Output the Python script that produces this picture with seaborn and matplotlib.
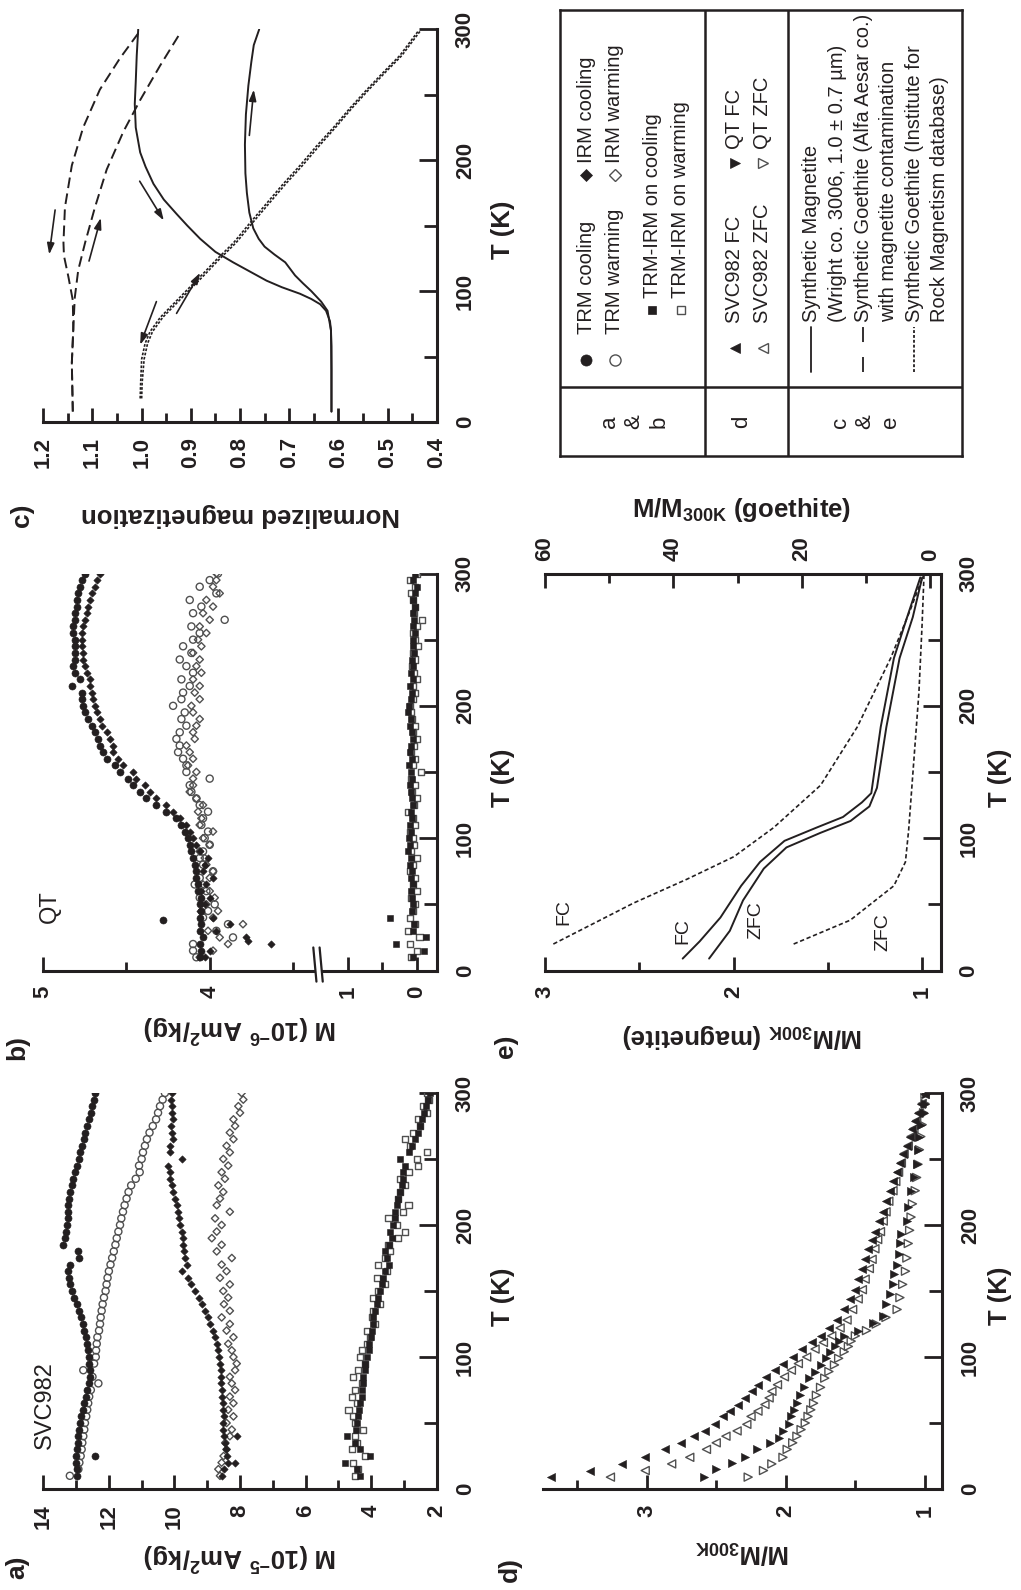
import numpy as np
import matplotlib
matplotlib.use("Agg")
import matplotlib.pyplot as plt
import seaborn as sns

# ---------------- values ----------------
# measurement temperatures (K) used for the scatter series of panels a and b
T_GRID = [10, 15, 20, 25, 30, 35, 40, 45, 50, 55, 60, 65, 70, 75, 80, 85, 90, 95, 100,
          105, 110, 115, 120, 125, 130, 135, 140, 145, 150, 155, 160, 165, 170, 175, 180,
          185, 190, 195, 200, 205, 210, 215, 220, 225, 230, 235, 240, 245, 250, 255, 260,
          265, 270, 275, 280, 285, 290, 295, 300]

# panel a) SVC982, M in 1e-5 Am2/kg
A_TRM_COOL = [12.96, 12.98, 13.00, 12.99, 12.98, 12.95, 12.93, 12.90, 12.87, 12.84,
              12.80, 12.75, 12.70, 12.66, 12.62, 12.59, 12.58, 12.60, 12.61, 12.63,
              12.67, 12.71, 12.75, 12.78, 12.85, 12.92, 12.98, 13.05, 13.12, 13.18,
              13.22, 13.25, 13.18, 12.90, 12.95, 13.39, 13.34, 13.30, 13.28, 13.26,
              13.25, 13.24, 13.22, 13.18, 13.13, 13.08, 13.03, 12.98, 12.92, 12.87,
              12.82, 12.77, 12.72, 12.67, 12.61, 12.56, 12.51, 12.46, 12.42]
A_TRM_COOL_EXTRA_T = [25]
A_TRM_COOL_EXTRA_M = [12.42]
A_TRM_WARM = [13.19, 12.93, 12.90, 12.86, 12.83, 12.81, 12.78, 12.75, 12.73, 12.69,
              12.66, 12.63, 12.60, 12.55, 12.32, 12.50, 12.78, 12.45, 12.40, 12.39,
              12.37, 12.35, 12.30, 12.27, 12.25, 12.22, 12.19, 12.15, 12.10, 12.07,
              12.04, 12.00, 11.95, 11.90, 11.85, 11.80, 11.76, 11.71, 11.66, 11.62,
              11.57, 11.52, 11.46, 11.40, 11.32, 11.18, 11.06, 11.08, 11.00, 10.96,
              10.90, 10.84, 10.76, 10.66, 10.56, 10.50, 10.44, 10.36, 10.29]
A_IRM_COOL = [8.56, 8.49, 8.36, 8.40, 8.43, 8.47, 8.49, 8.51, 8.52, 8.50,
              8.53, 8.53, 8.55, 8.56, 8.58, 8.59, 8.59, 8.61, 8.63, 8.66,
              8.69, 8.76, 8.81, 8.90, 8.97, 9.07, 9.17, 9.24, 9.37, 9.48,
              9.58, 9.78, 9.63, 9.67, 9.70, 9.73, 9.75, 9.78, 9.83, 9.85,
              9.88, 9.93, 9.98, 10.05, 10.08, 10.12, 10.14, 10.19, 9.78, 10.12,
              10.12, 10.05, 10.08, 10.10, 10.05, 10.08, 10.08, 10.10, 10.08]
A_IRM_COOL_EXTRA_T = [40, 20]
A_IRM_COOL_EXTRA_M = [8.10, 8.15]
A_IRM_WARM = [8.61, 8.66, 8.56, 8.50, 8.41, 8.45, 8.31, 8.25, 8.41, 8.20,
              8.36, 8.20, 8.31, 8.15, 8.25, 8.31, 8.15, 8.10, 8.20, 8.25,
              8.36, 8.20, 8.41, 8.31, 8.56, 8.31, 8.49, 8.36, 8.51, 8.31,
              8.61, 8.41, 8.56, 8.25, 8.71, 8.56, 8.86, 8.71, 8.56, 8.76,
              8.31, 8.71, 8.61, 8.51, 8.66, 8.46, 8.56, 8.36, 8.51, 8.31,
              8.41, 8.20, 8.31, 8.15, 8.20, 8.00, 8.05, 7.90, 7.95]
A_TRMIRM_COOL = [4.34, 4.44, 4.80, 4.03, 4.34, 4.49, 4.75, 4.46, 4.44, 4.39,
                 4.36, 4.34, 4.29, 4.29, 4.24, 4.24, 4.19, 4.19, 4.14, 4.08,
                 4.05, 4.01, 3.98, 3.93, 3.93, 3.88, 3.83, 3.78, 3.73, 3.68,
                 3.63, 3.58, 3.47, 3.53, 3.58, 3.47, 3.37, 3.42, 3.32, 3.27,
                 3.27, 3.22, 3.17, 3.12, 3.07, 3.02, 3.02, 2.97, 3.12, 2.86,
                 2.76, 2.66, 2.56, 2.50, 2.44, 2.38, 2.32, 2.26, 2.20]
A_TRMIRM_WARM = [4.49, 4.39, 4.54, 4.19, 4.59, 4.44, 4.49, 4.24, 4.49, 4.54,
                 4.69, 4.44, 4.59, 4.49, 4.29, 4.54, 4.39, 4.19, 4.34, 4.29,
                 4.14, 4.03, 4.14, 3.88, 3.98, 3.93, 3.73, 3.93, 3.78, 3.58,
                 3.83, 3.53, 3.78, 3.58, 3.42, 3.47, 3.17, 2.97, 3.22, 3.47,
                 3.02, 2.86, 3.17, 3.12, 2.97, 3.12, 2.86, 2.56, 2.61, 2.31,
                 2.81, 2.97, 2.71, 2.51, 2.56, 2.31, 2.41, 2.25, 2.31]

# panel b) QT, M in 1e-6 Am2/kg
B_TRM_COOL = [4.06, 4.05, 4.06, 4.04, 4.06, 4.05, 4.06, 4.05, 4.06, 4.05,
              4.07, 4.07, 4.08, 4.08, 4.09, 4.10, 4.11, 4.12, 4.13, 4.15,
              4.17, 4.20, 4.26, 4.32, 4.38, 4.42, 4.46, 4.49, 4.54, 4.57,
              4.62, 4.64, 4.66, 4.67, 4.69, 4.71, 4.73, 4.75, 4.76, 4.77,
              4.77, 4.83, 4.78, 4.81, 4.82, 4.81, 4.81, 4.81, 4.81, 4.82,
              4.82, 4.81, 4.81, 4.80, 4.80, 4.79, 4.78, 4.77, 4.75]
B_TRM_COOL_EXTRA_T = [38]
B_TRM_COOL_EXTRA_M = [4.28]
B_IRM_COOL = [4.03, 4.00, 3.63, 3.78, 3.96, 3.88, 3.98, 4.06, 4.03, 4.00,
              4.05, 4.02, 3.98, 4.04, 4.03, 4.01, 4.06, 4.08, 4.10, 4.12,
              4.14, 4.18, 4.22, 4.26, 4.32, 4.36, 4.39, 4.44, 4.46, 4.52,
              4.55, 4.58, 4.58, 4.60, 4.62, 4.65, 4.66, 4.68, 4.69, 4.70,
              4.71, 4.72, 4.72, 4.74, 4.75, 4.76, 4.76, 4.77, 4.77, 4.77,
              4.76, 4.75, 4.74, 4.73, 4.72, 4.71, 4.69, 4.68, 4.66]
B_IRM_COOL_EXTRA_T = [22]
B_IRM_COOL_EXTRA_M = [3.77]
B_TRM_WARM = [4.08, 4.10, 4.10, 3.86, 3.96, 3.89, 4.04, 4.01, 3.97, 4.06,
              4.02, 4.09, 4.06, 3.98, 4.04, 4.06, 4.04, 4.00, 4.03, 4.01,
              4.05, 4.04, 4.01, 4.06, 4.08, 4.11, 4.12, 4.00, 4.14, 4.14,
              4.16, 4.19, 4.18, 4.20, 4.18, 4.14, 4.17, 4.15, 4.22, 4.17,
              4.16, 4.12, 4.17, 4.10, 4.14, 4.18, 4.11, 4.16, 4.10, 4.06,
              4.11, 3.91, 4.10, 4.05, 4.12, 3.96, 4.06, 4.00, 3.95]
B_IRM_WARM = [4.06, 3.98, 3.89, 3.94, 4.01, 3.80, 3.98, 3.95, 4.02, 3.97,
              4.00, 4.04, 4.00, 3.98, 4.02, 4.03, 4.06, 4.00, 4.04, 3.98,
              4.06, 4.05, 4.07, 4.04, 4.08, 4.12, 4.10, 4.10, 4.08, 4.13,
              4.10, 4.12, 4.14, 4.09, 4.10, 4.08, 4.06, 4.10, 4.11, 4.06,
              4.09, 4.06, 4.10, 4.05, 4.08, 4.06, 4.10, 4.05, 4.07, 4.02,
              4.06, 4.00, 4.04, 3.98, 4.02, 3.94, 3.98, 3.96, 3.96]
B_TRMIRM_COOL = [0.05, -0.10, 0.30, -0.14, 0.05, 0.04, 0.39, 0.07, 0.05, 0.07,
                 0.09, 0.06, 0.08, 0.07, 0.10, 0.08, 0.12, 0.10, 0.11, 0.09,
                 0.10, 0.07, 0.09, 0.06, 0.07, 0.09, 0.10, 0.07, 0.09, 0.11,
                 0.07, 0.10, 0.09, 0.06, 0.07, 0.10, 0.09, 0.12, 0.11, 0.09,
                 0.07, 0.10, 0.06, 0.09, 0.05, 0.07, 0.04, 0.06, 0.05, 0.02,
                 0.05, 0.04, 0.06, 0.02, 0.05, 0.02, 0.00, 0.05, 0.02]
B_TRMIRM_WARM = [0.08, 0.00, 0.10, -0.04, 0.12, 0.02, 0.10, 0.05, 0.02, 0.08,
                 0.00, 0.06, 0.03, 0.10, 0.05, 0.00, 0.08, 0.04, 0.06, 0.10,
                 0.02, 0.05, 0.12, 0.04, 0.00, 0.07, 0.03, 0.08, -0.06, 0.05,
                 0.02, 0.08, 0.04, 0.00, 0.06, 0.03, 0.07, 0.08, 0.10, 0.05,
                 0.02, 0.06, 0.00, 0.04, 0.07, 0.02, 0.05, -0.02, 0.03, 0.06,
                 0.00, -0.08, 0.04, 0.02, 0.05, 0.08, 0.03, 0.10, 0.00]

# panel c) normalized magnetization of the reference materials
C_MAG_COOL_T = [300, 280, 260, 243, 225, 206, 195, 182, 170, 159, 150, 140, 130, 122,
                115, 108, 103, 98, 94, 90, 85, 77, 70, 58, 40, 20, 8]
C_MAG_COOL_M = [1.007, 1.010, 1.012, 1.014, 1.012, 1.003, 0.992, 0.976, 0.955, 0.929,
                0.907, 0.881, 0.850, 0.814, 0.780, 0.746, 0.715, 0.678, 0.655, 0.637,
                0.625, 0.617, 0.615, 0.614, 0.614, 0.614, 0.614]
C_MAG_WARM_T = [8, 40, 70, 85, 92, 100, 106, 112, 117, 122, 128, 134, 140, 148, 160,
                175, 190, 212, 235, 257, 275, 288, 300]
C_MAG_WARM_M = [0.614, 0.614, 0.615, 0.622, 0.635, 0.655, 0.672, 0.688, 0.698, 0.708,
                0.730, 0.750, 0.762, 0.773, 0.781, 0.786, 0.789, 0.790, 0.788, 0.783,
                0.777, 0.772, 0.761]
C_AA_COOL_T = [297, 278, 254, 225, 196, 164, 137, 127, 111, 93, 71, 45, 8]
C_AA_COOL_M = [1.007, 1.044, 1.085, 1.119, 1.142, 1.156, 1.159, 1.158, 1.149, 1.140,
               1.139, 1.142, 1.140]
C_AA_WARM_T = [8, 45, 71, 95, 116, 137, 164, 193, 222, 246, 272, 297]
C_AA_WARM_M = [1.140, 1.142, 1.139, 1.136, 1.129, 1.115, 1.095, 1.071, 1.037, 1.003,
               0.963, 0.922]
C_IRM_T = [18, 30, 48, 60, 69, 80, 90, 100, 111, 124, 137, 152, 167, 182, 196, 211,
           225, 240, 254, 267, 280, 290, 299]
C_IRM_COOL_M = [1.003, 1.002, 1.000, 0.993, 0.983, 0.962, 0.936, 0.910, 0.881, 0.848,
                0.813, 0.780, 0.746, 0.712, 0.678, 0.644, 0.610, 0.576, 0.542, 0.509,
                0.475, 0.455, 0.437]
C_IRM_WARM_M = [1.000, 0.999, 0.995, 0.988, 0.978, 0.957, 0.931, 0.905, 0.876, 0.843,
                0.808, 0.775, 0.741, 0.707, 0.673, 0.639, 0.606, 0.572, 0.538, 0.505,
                0.471, 0.451, 0.433]

# panel d) M/M300K, SVC982 and QT
D_SVC_T = [9, 14, 19, 24, 30, 35, 40, 44, 49, 55, 59, 64, 69, 74, 79, 85, 90, 95, 100,
           106, 111, 116, 122, 128, 136, 144, 151, 159, 167, 174, 182, 189, 195, 203,
           210, 218, 226, 233, 240, 247, 254, 260, 267, 273, 279, 285, 292, 299]
D_SVC_FC = [3.69, 3.41, 3.18, 3.01, 2.87, 2.75, 2.66, 2.58, 2.51, 2.45,
            2.40, 2.34, 2.29, 2.24, 2.20, 2.14, 2.08, 2.02, 1.95, 1.88,
            1.81, 1.75, 1.69, 1.63, 1.58, 1.54, 1.50, 1.48, 1.45, 1.43,
            1.41, 1.38, 1.36, 1.33, 1.30, 1.28, 1.25, 1.23, 1.20, 1.18,
            1.16, 1.13, 1.11, 1.09, 1.07, 1.05, 1.03, 1.00]
D_SVC_ZFC = [3.26, 3.01, 2.82, 2.69, 2.57, 2.50, 2.43, 2.35, 2.28, 2.25,
             2.20, 2.15, 2.12, 2.10, 2.06, 2.01, 1.96, 1.91, 1.85, 1.79,
             1.73, 1.67, 1.61, 1.56, 1.52, 1.48, 1.45, 1.43, 1.40, 1.38,
             1.36, 1.34, 1.32, 1.30, 1.28, 1.26, 1.23, 1.21, 1.19, 1.17,
             1.15, 1.12, 1.10, 1.08, 1.06, 1.04, 1.02, 1.00]
D_QT_FC_T = [9, 15, 20, 24, 30, 35, 39, 44, 49, 55, 60, 65, 71, 77, 84, 89, 94, 99, 104,
             108, 112, 116, 120, 126, 131, 140, 148, 155, 163, 170, 178, 186, 193, 203,
             214, 226, 236, 246, 257, 267, 276, 285, 292, 299]
D_QT_FC = [2.59, 2.50, 2.39, 2.29, 2.21, 2.11, 2.05, 2.02, 1.98, 1.96,
           1.94, 1.92, 1.90, 1.87, 1.83, 1.79, 1.75, 1.71, 1.68, 1.65,
           1.62, 1.58, 1.48, 1.37, 1.30, 1.28, 1.25, 1.23, 1.22, 1.20,
           1.19, 1.18, 1.17, 1.13, 1.12, 1.10, 1.08, 1.06, 1.05, 1.04,
           1.03, 1.01, 1.00, 0.99]
D_QT_ZFC_T = [9, 14, 19, 24, 30, 35, 40, 45, 50, 55, 60, 65, 71, 77, 84, 89, 94, 99, 104,
              108, 112, 116, 120, 125, 130, 136, 145, 155, 165, 175, 186, 196, 206, 216,
              226, 236, 246, 257, 267, 276, 285, 292, 299]
D_QT_ZFC = [2.27, 2.16, 2.10, 2.02, 1.99, 1.95, 1.92, 1.89, 1.86, 1.84,
            1.82, 1.80, 1.78, 1.75, 1.72, 1.69, 1.65, 1.62, 1.58, 1.55,
            1.53, 1.50, 1.42, 1.35, 1.28, 1.20, 1.18, 1.16, 1.14, 1.13,
            1.12, 1.11, 1.10, 1.09, 1.07, 1.06, 1.05, 1.04, 1.03, 1.02,
            1.01, 1.00, 1.00]

# panel e) synthetic magnetite (bottom scale) and IRM-database goethite (top scale)
E_MAG_FC_T = [9, 22, 40, 64, 82, 98, 108, 116, 127, 134, 184, 236, 267, 297]
E_MAG_FC = [2.27, 2.18, 2.07, 1.96, 1.86, 1.73, 1.56, 1.42, 1.32, 1.27, 1.22, 1.15, 1.08, 1.01]
E_MAG_ZFC_T = [9, 30, 53, 77, 93, 104, 113, 124, 138, 184, 236, 267, 297]
E_MAG_ZFC = [2.13, 2.02, 1.95, 1.84, 1.72, 1.54, 1.38, 1.28, 1.24, 1.19, 1.12, 1.05, 1.00]
E_GOE_FC_T = [20, 51, 69, 86, 108, 140, 184, 236, 273, 300]
E_GOE_FC = [58.7, 46.2, 37.9, 30.6, 24.4, 17.1, 11.4, 6.2, 3.1, 1.0]
E_GOE_ZFC_T = [20, 38, 64, 82, 106, 158, 210, 262, 300]
E_GOE_ZFC = [21.3, 12.5, 5.7, 3.9, 3.4, 2.6, 1.8, 1.3, 1.0]

INK = "#231f20"
OPEN = "#505050"

# ---------------- style ----------------
sns.set_theme(style="white")
plt.rcParams["font.family"] = ["Liberation Sans", "DejaVu Sans"]
plt.rcParams["font.weight"] = "bold"
plt.rcParams["axes.labelweight"] = "bold"
plt.rcParams["mathtext.fontset"] = "custom"
plt.rcParams["mathtext.rm"] = "Liberation Sans:bold"
plt.rcParams["mathtext.bf"] = "Liberation Sans:bold"
plt.rcParams["mathtext.it"] = "Liberation Sans:italic:bold"
for key in ("text.color", "axes.labelcolor", "xtick.color", "ytick.color"):
    plt.rcParams[key] = INK

W, H = 1021, 1590
fig = plt.figure(figsize=(W / 100, H / 100), dpi=100)
fig.patch.set_facecolor("white")


def panel(x0, y0, x1, y1):
    # box in picture pixels -> figure fraction
    return fig.add_axes([x0 / W, 1 - y1 / H, (x1 - x0) / W, (y1 - y0) / H])


def turn(ax, xmaj, xmin):
    # whole figure is turned a quarter: T runs up along the right spine,
    # magnetization grows to the left along the bottom spine
    for side in ("top", "left"):
        ax.spines[side].set_visible(False)
    for side in ("bottom", "right"):
        ax.spines[side].set_visible(True)
        ax.spines[side].set_linewidth(2.2)
        ax.spines[side].set_color(INK)
    ax.set_ylim(0, 300)
    ax.yaxis.tick_right()
    ax.yaxis.set_label_position("right")
    ax.set_xticks(xmaj)
    ax.set_xticks(xmin, minor=True)
    ax.set_yticks([0, 100, 200, 300])
    ax.set_yticks([50, 150, 250], minor=True)
    ax.tick_params(axis="x", which="major", direction="in", bottom=True, top=False,
                   length=10, width=2.0, pad=11, labelsize=16, labelrotation=90)
    ax.tick_params(axis="x", which="minor", direction="in", bottom=True, top=False,
                   length=6.5, width=2.0)
    ax.tick_params(axis="y", which="major", direction="in", right=True, left=False,
                   length=13, width=2.0, pad=13, labelsize=16, labelrotation=90)
    ax.tick_params(axis="y", which="minor", direction="in", right=True, left=False,
                   length=9.5, width=2.0)
    plt.setp(ax.get_yticklabels(), va="center", fontweight="bold")
    plt.setp(ax.get_xticklabels(), fontweight="bold")
    ax.grid(False)


def labels(ax, xtext, xlab_y, ylab_x, ylab_y=0.485):
    ax.set_xlabel(xtext, fontsize=18.5, rotation=180)
    ax.xaxis.set_label_coords(0.5, xlab_y)
    ax.xaxis.label.set_va("center")
    ax.set_ylabel("T (K)", fontsize=18.5, rotation=90)
    ax.yaxis.set_label_coords(ylab_x, ylab_y)
    ax.yaxis.label.set_va("center")
    ax.yaxis.label.set_ha("center")


def dots(ax, xs, ys, marker, s, filled):
    if filled:
        sns.scatterplot(x=xs, y=ys, ax=ax, marker=marker, s=s, color=INK,
                        edgecolor=INK, linewidth=0.4, zorder=3)
    else:
        sns.scatterplot(x=xs, y=ys, ax=ax, marker=marker, s=s, color="none",
                        edgecolor=OPEN, linewidth=1.0, zorder=3)


def curve(ax, xs, ys, lw=1.4, dashes=None):
    sns.lineplot(x=xs, y=ys, ax=ax, orient="y", sort=False, estimator=None,
                 color=INK, lw=lw)
    if dashes is not None:
        ax.lines[-1].set_dashes(dashes)


def tag(x, y, text):
    fig.text(x / W, 1 - y / H, text, rotation=90, ha="center", va="center", fontsize=19)


# ---------------- a) SVC982 ----------------
ax_a = panel(43.3, 1093, 436.7, 1489)
dots(ax_a, A_TRMIRM_WARM, T_GRID, "s", 19, False)
dots(ax_a, A_TRMIRM_COOL, T_GRID, "s", 19, True)
dots(ax_a, A_IRM_WARM, T_GRID, "D", 14, False)
dots(ax_a, A_IRM_COOL + A_IRM_COOL_EXTRA_M, T_GRID + A_IRM_COOL_EXTRA_T, "D", 14, True)
dots(ax_a, A_TRM_WARM, T_GRID, "o", 26, False)
dots(ax_a, A_TRM_COOL + A_TRM_COOL_EXTRA_M, T_GRID + A_TRM_COOL_EXTRA_T, "o", 26, True)
ax_a.set_xlim(14, 2)
turn(ax_a, [2, 4, 6, 8, 10, 12, 14], [3, 5, 7, 9, 11, 13])
labels(ax_a, r"M (10$^{\mathbf{-5}}$ Am$^{\mathbf{2}}$/kg)", -0.169, 1.1686)
ax_a.text(13.95, 30, "SVC982", rotation=90, ha="center", va="bottom", fontsize=17,
          fontweight="normal")
tag(17, 1567, "a)")

# ---------------- b) QT (broken magnetization axis) ----------------
ax_b = panel(43.3, 573.5, 436.7, 970.5)


def b_forward(m):
    m = np.asarray(m, dtype=float)
    return np.where(m <= 1.43, m,
                    np.where(m >= 3.35, 1.4348 + (m - 3.35) * 2.415,
                             1.43 + (m - 1.43) * 0.0025))


def b_inverse(p):
    p = np.asarray(p, dtype=float)
    return np.where(p <= 1.43, p,
                    np.where(p >= 1.4348, 3.35 + (p - 1.4348) / 2.415,
                             1.43 + (p - 1.43) / 0.0025))


ax_b.set_xscale("function", functions=(b_forward, b_inverse))
dots(ax_b, B_TRMIRM_WARM, T_GRID, "s", 19, False)
dots(ax_b, B_TRMIRM_COOL, T_GRID, "s", 19, True)
dots(ax_b, B_IRM_WARM, T_GRID, "D", 14, False)
dots(ax_b, B_TRM_WARM, T_GRID, "o", 26, False)
dots(ax_b, B_IRM_COOL + B_IRM_COOL_EXTRA_M, T_GRID + B_IRM_COOL_EXTRA_T, "D", 14, True)
dots(ax_b, B_TRM_COOL + B_TRM_COOL_EXTRA_M, T_GRID + B_TRM_COOL_EXTRA_T, "o", 26, True)
ax_b.set_xlim(5.0, -0.29)
turn(ax_b, [0, 1, 4, 5], [0.5, 3.5, 4.5])
labels(ax_b, r"M (10$^{\mathbf{-6}}$ Am$^{\mathbf{2}}$/kg)", -0.146, 1.1686)
ax_b.text(4.96, 36, "QT", rotation=90, ha="center", va="bottom", fontsize=17,
          fontweight="normal")
xb = ax_b.transAxes.inverted().transform(ax_b.transData.transform((2.4, 0.0)))[0]
ax_b.add_patch(plt.Rectangle((xb - 0.008, -0.012), 0.016, 0.024, transform=ax_b.transAxes,
                             facecolor="white", edgecolor="none", clip_on=False, zorder=4))
for dx in (-0.008, 0.008):
    ax_b.plot([xb + dx - 0.004, xb + dx + 0.004], [0.058, -0.028], transform=ax_b.transAxes,
              color=INK, lw=1.6, clip_on=False, zorder=5)
tag(17, 1047, "b)")

# ---------------- c) reference materials ----------------
ax_c = panel(43.3, 29.4, 436.7, 422)
curve(ax_c, C_MAG_COOL_M, C_MAG_COOL_T)
curve(ax_c, C_MAG_WARM_M, C_MAG_WARM_T)
curve(ax_c, C_AA_COOL_M, C_AA_COOL_T, dashes=(5.5, 2.8))
curve(ax_c, C_AA_WARM_M, C_AA_WARM_T, dashes=(5.5, 2.8))
curve(ax_c, C_IRM_COOL_M, C_IRM_T, lw=1.2, dashes=(1.6, 1.0))
curve(ax_c, C_IRM_WARM_M, C_IRM_T, lw=1.2, dashes=(1.6, 1.0))
arrow_kw = dict(arrowstyle="-|>,head_length=0.55,head_width=0.18", color=INK, lw=1.2,
                shrinkA=0, shrinkB=0)
for (m0, t0), (m1, t1) in [((1.176, 162), (1.188, 128)), ((1.107, 123), (1.083, 156)),
                           ((1.004, 184), (0.955, 154)), ((0.781, 219), (0.772, 254)),
                           ((0.970, 92), (1.003, 59)), ((0.929, 83), (0.881, 114))]:
    ax_c.annotate("", xy=(m1, t1), xytext=(m0, t0), arrowprops=arrow_kw)
ax_c.set_xlim(1.2, 0.4)
turn(ax_c, [0.4, 0.5, 0.6, 0.7, 0.8, 0.9, 1.0, 1.1, 1.2],
     [0.45, 0.55, 0.65, 0.75, 0.85, 0.95, 1.05, 1.15])
labels(ax_c, "Normalized magnetization", -0.236, 1.1686, 0.489)
tag(22, 515, "c)")

# ---------------- d) M/M300K triangles ----------------
ax_d = panel(543.3, 1093, 941.7, 1489)
dots(ax_d, D_QT_ZFC, D_QT_ZFC_T, ">", 34, False)
dots(ax_d, D_SVC_ZFC, D_SVC_T, "<", 34, False)
dots(ax_d, D_QT_FC, D_QT_FC_T, ">", 34, True)
dots(ax_d, D_SVC_FC, D_SVC_T, "<", 34, True)
ax_d.set_xlim(3.742, 0.88)
turn(ax_d, [1, 2, 3], [1.5, 2.5, 3.5])
labels(ax_d, r"M/M$_{\mathbf{300K}}$", -0.158, 1.146, 0.488)
tag(510, 1569, "d)")

# ---------------- e) magnetite and goethite curves ----------------
ax_e = panel(545, 573.5, 940.5, 970.5)
curve(ax_e, E_MAG_FC, E_MAG_FC_T)
curve(ax_e, E_MAG_ZFC, E_MAG_ZFC_T)
ax_e.set_xlim(3.0, 0.903)
turn(ax_e, [1, 2, 3], [1.5, 2.5])
labels(ax_e, r"M/M$_{\mathbf{300K}}$ (magnetite)", -0.166, 1.150)
for m, t, s in [(2.90, 44, "FC"), (2.27, 30, "FC"), (1.88, 38, "ZFC"), (1.21, 29, "ZFC")]:
    ax_e.text(m, t, s, rotation=90, ha="center", va="center", fontsize=14,
              fontweight="normal")

ax_g = ax_e.twiny()
curve(ax_g, E_GOE_FC, E_GOE_FC_T, lw=1.2, dashes=(2.6, 1.6))
curve(ax_g, E_GOE_ZFC, E_GOE_ZFC_T, lw=1.2, dashes=(2.6, 1.6))
ax_g.set_xlim(60, -1.56)
ax_g.set_ylim(0, 300)
for side in ("bottom", "left", "right"):
    ax_g.spines[side].set_visible(False)
ax_g.spines["top"].set_visible(True)
ax_g.spines["top"].set_linewidth(2.2)
ax_g.spines["top"].set_color(INK)
ax_g.set_xticks([0, 20, 40, 60])
ax_g.set_xticks([10, 30, 50], minor=True)
ax_g.tick_params(axis="x", which="major", direction="in", top=True, bottom=False,
                 labeltop=True, labelbottom=False, length=10, width=2.0, pad=9,
                 labelsize=16, labelrotation=90)
ax_g.tick_params(axis="x", which="minor", direction="in", top=True, bottom=False,
                 length=6.5, width=2.0)
plt.setp(ax_g.get_xticklabels(), fontweight="bold")
ax_g.set_xlabel(r"M/M$_{\mathbf{300K}}$ (goethite)", fontsize=18.5)
ax_g.xaxis.set_label_coords(0.497, 1.159)
ax_g.xaxis.label.set_va("center")
tag(506, 1046, "e)")

# ---------------- key table (top right) ----------------
leg = panel(560, 9.7, 962, 456)
leg.set_xlim(560, 962)
leg.set_ylim(456, 9.7)
leg.set_xticks([])
leg.set_yticks([])
for sp in leg.spines.values():
    sp.set_linewidth(1.8)
    sp.set_color(INK)
for xv in (705, 788.3):
    leg.plot([xv, xv], [9.7, 456], color=INK, lw=1.8)
leg.plot([560, 962], [387.5, 387.5], color=INK, lw=1.8)

key_marks = [  # x, y of symbol, marker, filled, size, label, y where the label starts
    (586, 360, "o", True, 8, "TRM cooling", 334),
    (586, 175, "D", True, 6, "IRM cooling", 163),
    (615, 360, "o", False, 8, "TRM warming", 334),
    (615, 175, "D", False, 6, "IRM warming", 163),
    (652, 310, "s", True, 6, "TRM-IRM on cooling", 298),
    (681, 310, "s", False, 6, "TRM-IRM on warming", 298),
    (735, 348, "<", True, 7.5, "SVC982 FC", 323),
    (735, 163, ">", True, 7.5, "QT FC", 149),
    (763, 348, "<", False, 7.5, "SVC982 ZFC", 323),
    (763, 163, ">", False, 7.5, "QT ZFC", 149),
]
for x, y, mk, filled, ms, text, yt in key_marks:
    leg.plot([x], [y], marker=mk, ms=ms, linestyle="none", color=INK,
             mfc=INK if filled else "none", mec=INK if filled else OPEN,
             mew=0.5 if filled else 1.0)
    leg.text(x, yt, text, rotation=90, ha="center", va="bottom", fontsize=14.5,
             fontweight="normal")

key_lines = [
    (811, None, "Synthetic Magnetite"),
    (837, "skip", "(Wright co. 3006, 1.0 \u00b1 0.7 \u00b5m)"),
    (863, (8.3, 8.3), "Synthetic Goethite (Alfa Aesar co.)"),
    (889, "skip", "with magnetite contamination"),
    (914, (1.6, 1.1), "Synthetic Goethite (Institute for"),
    (939, "skip", "Rock Magnetism database)"),
]
for x, dash, text in key_lines:
    if dash != "skip":
        ln, = leg.plot([x, x], [372, 327], color=INK, lw=1.3)
        if dash is not None:
            ln.set_dashes(dash)
    leg.text(x, 322, text, rotation=90, ha="center", va="bottom", fontsize=14.5,
             fontweight="normal")

for x, text in [(634, "a\n&\nb"), (742, "d"), (865, "c\n&\ne")]:
    leg.text(x, 422, text, rotation=90, ha="center", va="center", fontsize=16,
             linespacing=1.25, fontweight="normal")

fig.savefig("out.png", dpi=100, facecolor="white")
